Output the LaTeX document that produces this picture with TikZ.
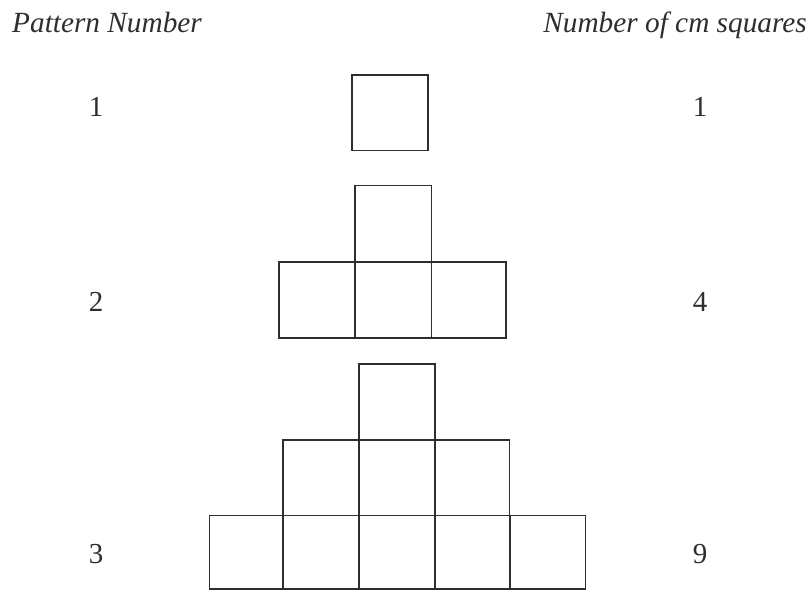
\documentclass[tikz,border=0pt]{standalone}
\usepackage{fontspec}
\setmainfont{Liberation Serif}
\definecolor{ink}{HTML}{2E2E2E}
\begin{document}
\begin{tikzpicture}[x=1pt,y=-1pt,
  cell/.style={draw=ink,line width=1.6pt},
  head/.style={font=\fontsize{29.3}{32}\selectfont\itshape,text=ink,inner sep=0pt,anchor=base},
  num/.style={font=\fontsize{29}{32}\selectfont,text=ink,inner sep=0pt,anchor=base}]
\useasboundingbox (0,0) rectangle (810,590);
% headers
\node[head,anchor=base west] (hl) at (12,32) {Pattern Number};
\node[head,anchor=base east] (hr) at (807,32) {Number of cm squares};
% numbers
\node[num] (p1) at (96,116) {1};
\node[num] (p2) at (96,311.5) {2};
\node[num] (p3) at (96,563) {3};
\node[num] (n1) at (700,116) {1};
\node[num] (n2) at (700,311.5) {4};
\node[num] (n3) at (700,563) {9};
% pattern 1
\draw[cell] (351.7,74.7) rectangle (427.7,150.3);
% pattern 2
\draw[cell] (354.7,185.3) rectangle (431.3,261.7);
\draw[cell] (278.7,261.7) rectangle (354.7,337.7);
\draw[cell] (354.7,261.7) rectangle (431.3,337.7);
\draw[cell] (431.3,261.7) rectangle (506,337.7);
% pattern 3
\draw[cell] (358.7,363.7) rectangle (434.7,439.7);
\draw[cell] (282.7,439.7) rectangle (358.7,515.3);
\draw[cell] (358.7,439.7) rectangle (434.7,515.3);
\draw[cell] (434.7,439.7) rectangle (509.5,515.3);
\draw[cell] (209.3,515.3) rectangle (282.7,588.7);
\draw[cell] (282.7,515.3) rectangle (358.7,588.7);
\draw[cell] (358.7,515.3) rectangle (435,588.7);
\draw[cell] (435,515.3) rectangle (509.7,588.7);
\draw[cell] (509.7,515.3) rectangle (585.3,588.7);
\end{tikzpicture}
\end{document}
